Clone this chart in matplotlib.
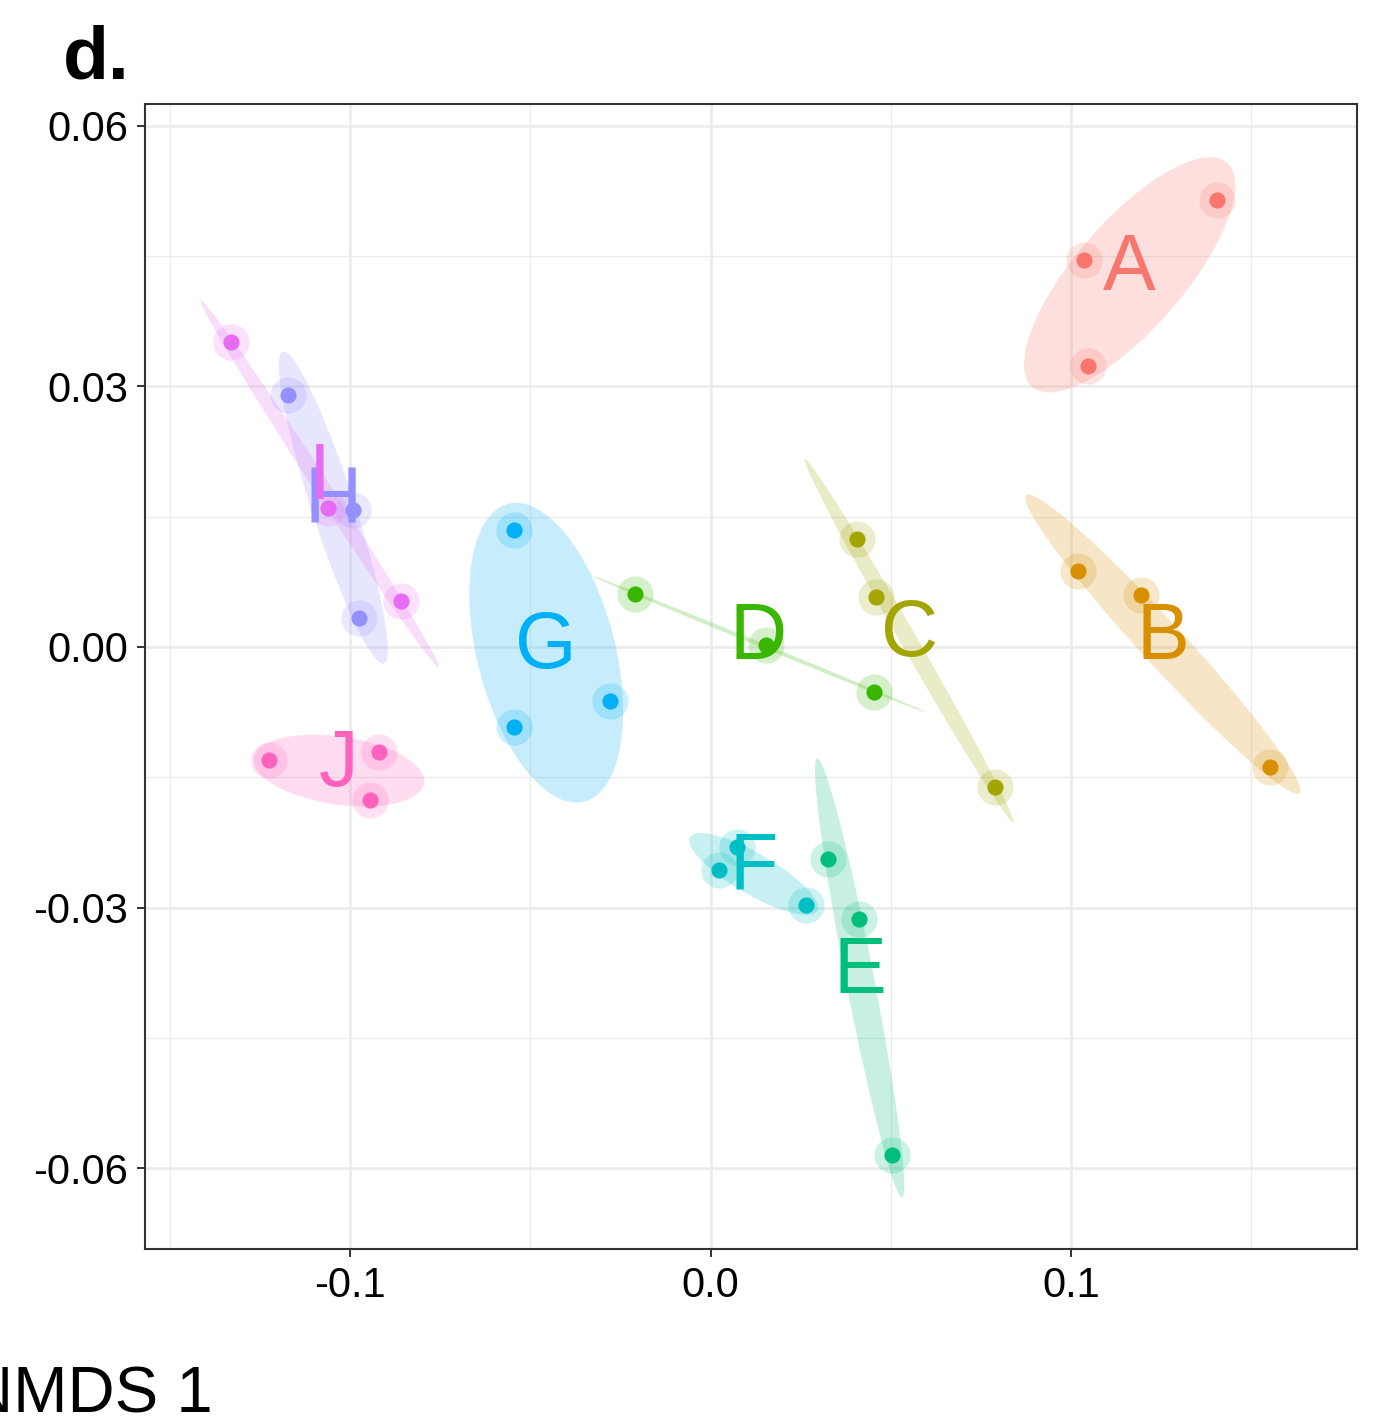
import numpy as np
import matplotlib
matplotlib.use("Agg")
import matplotlib.pyplot as plt
from matplotlib.patches import Ellipse

plt.rcParams['font.family'] = ['Liberation Sans', 'DejaVu Sans']

# NMDS site scores by group
groups = ["A", "B", "C", "D", "E", "F", "G", "H", "I", "J"]
nmds1 = {
    "A": [0.1404, 0.1037, 0.1046],
    "B": [0.1018, 0.1193, 0.1553],
    "C": [0.0405, 0.0460, 0.0788],
    "D": [-0.0211, 0.0155, 0.0452],
    "E": [0.0325, 0.0413, 0.0502],
    "F": [0.0072, 0.0022, 0.0264],
    "G": [-0.0544, -0.0280, -0.0544],
    "H": [-0.1171, -0.0993, -0.0976],
    "I": [-0.1331, -0.1062, -0.0860],
    "J": [-0.1226, -0.0921, -0.0946],
}
nmds2 = {
    "A": [0.0515, 0.0446, 0.0324],
    "B": [0.00875, 0.0060, -0.0138],
    "C": [0.01244, 0.00576, -0.01612],
    "D": [0.0061, 0.0002, -0.00518],
    "E": [-0.0244, -0.0313, -0.0585],
    "F": [-0.0230, -0.0257, -0.0297],
    "G": [0.01347, -0.00622, -0.00921],
    "H": [0.0290, 0.01578, 0.00334],
    "I": [0.0351, 0.0160, 0.0053],
    "J": [-0.0130, -0.0121, -0.0176],
}
colors = ["#F8766D", "#D89000", "#A3A500", "#39B600", "#00BF7D",
          "#00BFC4", "#00B0F6", "#9590FF", "#E76BF3", "#FF62BC"]

x_ticks = [-0.1, 0.0, 0.1]
x_ticklabels = ["-0.1", "0.0", "0.1"]
y_ticks = [0.06, 0.03, 0.00, -0.03, -0.06]
y_ticklabels = ["0.06", "0.03", "0.00", "-0.03", "-0.06"]

ELL_SCALE = 1.4  # spread multiplier for the group dispersion ellipses

fig = plt.figure(figsize=(13.74, 14.25), dpi=100)
ax = fig.add_axes([0.1055, 0.1235, 0.8821, 0.8035])

for g, c in zip(groups, colors):
    x = np.array(nmds1[g])
    y = np.array(nmds2[g])
    cov = np.cov(np.vstack([x, y]))
    vals, vecs = np.linalg.eigh(cov)
    vals = np.clip(vals, 0, None)
    order = vals.argsort()[::-1]
    vals, vecs = vals[order], vecs[:, order]
    angle = np.degrees(np.arctan2(vecs[1, 0], vecs[0, 0]))
    w = 2 * ELL_SCALE * np.sqrt(vals[0])
    h = 2 * ELL_SCALE * np.sqrt(vals[1])
    ax.add_patch(Ellipse((x.mean(), y.mean()), w, h, angle=angle,
                         facecolor=c, alpha=0.22, edgecolor="none", zorder=1))
    ax.scatter(x, y, s=680, color=c, alpha=0.2, linewidths=0, zorder=2)
    ax.scatter(x, y, s=135, color=c, linewidths=0, zorder=3)
    # group label at the centroid
    ax.annotate(g, (x.mean(), y.mean()), xytext=(0, 4),
                textcoords="offset points", color=c, fontsize=57,
                ha="center", va="center", zorder=4)

ax.set_xlim(-0.1569, 0.1793)
ax.set_ylim(-0.0693, 0.0625)

ax.set_xticks(x_ticks)
ax.set_xticklabels(x_ticklabels)
ax.set_yticks(y_ticks)
ax.set_yticklabels(y_ticklabels)
ax.set_xticks([-0.15, -0.05, 0.05, 0.15], minor=True)
ax.set_yticks([0.045, 0.015, -0.015, -0.045], minor=True)

ax.grid(which="major", color="#EBEBEB", linewidth=1.8, zorder=0)
ax.grid(which="minor", color="#EBEBEB", linewidth=0.9, zorder=0)
ax.set_axisbelow(True)

ax.tick_params(which="major", length=6, width=1.4, color="#333333",
               labelsize=30, labelcolor="black", pad=6)
ax.tick_params(which="minor", length=0)
for s in ax.spines.values():
    s.set_color("#333333")
    s.set_linewidth(1.5)

fig.text(0.046, 0.945, "d.", fontsize=54, fontweight="bold",
         ha="left", va="baseline")
fig.text(0.1545, 0.009, "NMDS 1", fontsize=47, ha="right", va="baseline")

fig.savefig("out.png", dpi=100)
